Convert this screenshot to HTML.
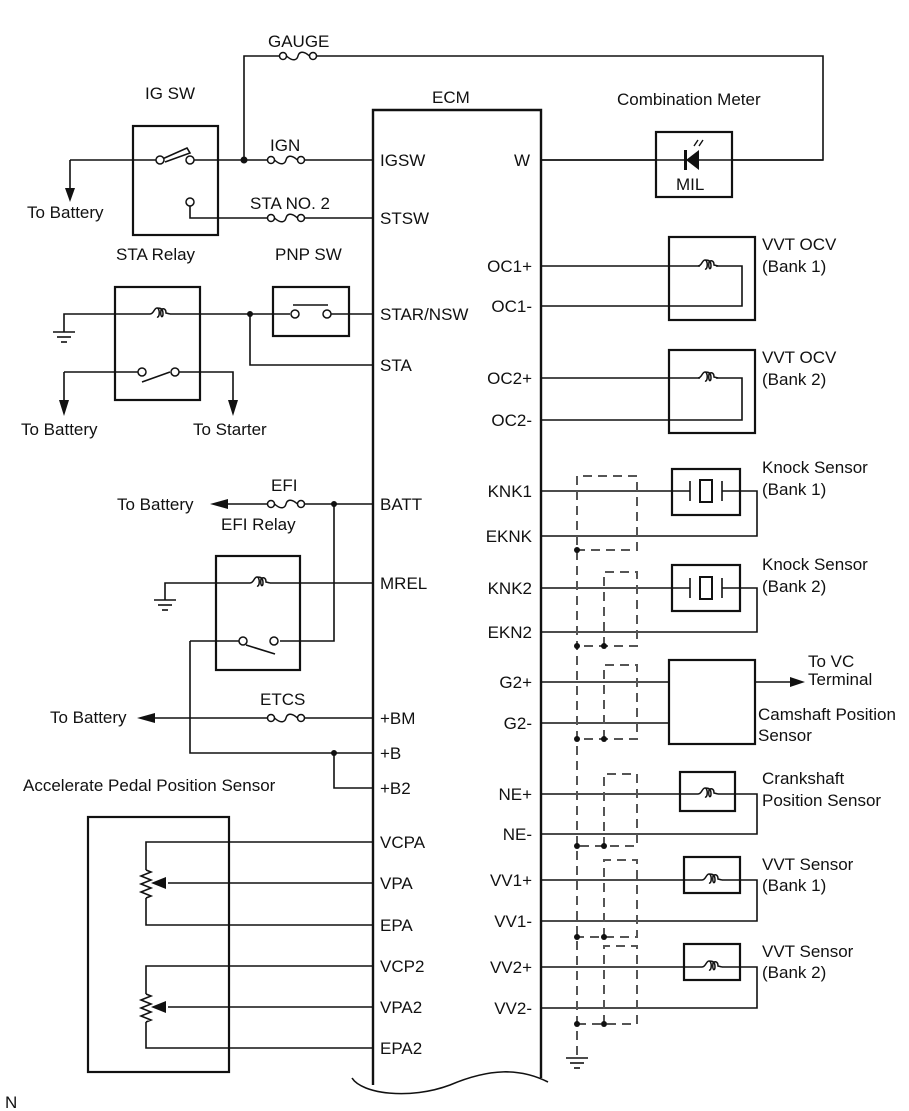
<!DOCTYPE html>
<html><head><meta charset="utf-8"><style>
html,body{margin:0;padding:0;background:#fff}
svg{display:block}
text{font-family:"Liberation Sans",sans-serif;font-size:17px;fill:#111}
</style></head><body>
<svg width="909" height="1111" viewBox="0 0 909 1111" xmlns="http://www.w3.org/2000/svg">
<defs>
<g id="fuse"><circle cx="0" cy="0" r="3.5" fill="#fff" stroke="#111" stroke-width="1.5"/><circle cx="30" cy="0" r="3.5" fill="#fff" stroke="#111" stroke-width="1.5"/><path d="M3.5,0 C10,6 14,4 15,0 C16,-4 20,-6 26.5,0" fill="none" stroke="#111" stroke-width="1.5"/></g>
<g id="coil"><path d="M-10,0 C-6,0 -6,-6 -3,-6 C0,-6 0,4 -3,3 M-3,-6 C0,-6 3,-6 3,0 C3,4 0,4 1,-4 C2,-6 6,-6 6,-1 L10,0" fill="none" stroke="#111" stroke-width="1.5"/></g>
<g id="gnd"><line x1="-11" y1="0" x2="11" y2="0"/><line x1="-7" y1="5" x2="7" y2="5"/><line x1="-3" y1="10" x2="3" y2="10"/></g>
</defs>
<g stroke="#111" stroke-width="1.6" fill="none">
<path d="M373,1085 L373,110 L541,110 L541,1078" stroke-width="2.4"/>
<path d="M352,1078 C362,1094 410,1100 450,1085 C490,1068 520,1068 548,1082" stroke-width="1.6"/>
<rect x="133" y="126" width="85" height="109" stroke-width="2.2"/>
<path d="M70,160 L160,160 M160,160 L187,148 L190,153 L165,162"/>
<path d="M70,160 L70,190"/>
<path d="M244,160 L244,56 L283,56 M313,56 L823,56 L823,160 L541,160"/>
<path d="M190,206 L190,218 L271,218 M301,218 L373,218"/>
<path d="M190,160 L271,160 M301,160 L373,160"/>
<rect x="115" y="287" width="85" height="113" stroke-width="2.2"/>
<path d="M64,332 L64,314 L150,314 M170,314 L290,314 M330,314 L373,314"/>
<path d="M250,314 L250,365 L373,365"/>
<path d="M64,372 L142,372 M175,372 L233,372 L233,405 M64,372 L64,405 M142,382 L170,372"/>
<rect x="273" y="287" width="76" height="49" stroke-width="2.2"/>
<path d="M293,305 L328,305"/>
<path d="M228,504 L270,504 M303,504 L373,504 M334,504 L334,641 L280,641"/>
<rect x="216" y="556" width="84" height="114" stroke-width="2.2"/>
<path d="M165,600 L165,583 L250,583 M270,583 L373,583"/>
<path d="M190,641 L240,641 M246,645 L275,654 M190,641 L190,753 L373,753 M334,753 L334,788 L373,788"/>
<path d="M155,718 L270,718 M303,718 L373,718"/>
<rect x="656" y="132" width="76" height="65" stroke-width="2.2"/>
<path d="M541,160 L656,160 M732,160 L823,160"/>
<rect x="669" y="237" width="86" height="83" stroke-width="2.2"/>
<path d="M541,266 L700,266 M716,266 L742,266 L742,306 L541,306"/>
<rect x="669" y="350" width="86" height="83" stroke-width="2.2"/>
<path d="M541,378 L700,378 M716,378 L742,378 L742,420 L541,420"/>
<rect x="672" y="469" width="68" height="46" stroke-width="2.2"/>
<path d="M541,491 L690,491 M722,491 L757,491 L757,536 L541,536 M690,481 L690,501 M722,481 L722,501"/>
<rect x="700" y="480" width="12" height="22" stroke-width="2"/>
<rect x="672" y="565" width="68" height="46" stroke-width="2.2"/>
<path d="M541,588 L690,588 M722,588 L757,588 L757,632 L541,632 M690,578 L690,598 M722,578 L722,598"/>
<rect x="700" y="577" width="12" height="22" stroke-width="2"/>
<rect x="669" y="660" width="86" height="84" stroke-width="2.2"/>
<path d="M541,682 L669,682 M541,723 L669,723 M755,682 L790,682"/>
<rect x="680" y="772" width="55" height="39" stroke-width="2.2"/>
<path d="M541,794 L698,794 M718,794 L757,794 L757,834 L541,834"/>
<rect x="684" y="857" width="56" height="36" stroke-width="2.2"/>
<path d="M541,880 L702,880 M722,880 L757,880 L757,921 L541,921"/>
<rect x="684" y="944" width="56" height="36" stroke-width="2.2"/>
<path d="M541,967 L702,967 M722,967 L757,967 L757,1008 L541,1008"/>
<rect x="88" y="817" width="141" height="255" stroke-width="2.2"/>
<path d="M373,842 L146,842 L146,870 M146,898 L146,925 L373,925 M373,883 L168,883"/>
<path d="M146,870 l5,2 l-10,4 l10,4 l-10,4 l10,4 l-10,4 l10,4 l-5,2"/>
<path d="M373,966 L146,966 L146,994 M146,1022 L146,1048 L373,1048 M373,1007 L168,1007"/>
<path d="M146,994 l5,2 l-10,4 l10,4 l-10,4 l10,4 l-10,4 l10,4 l-5,2"/>
</g>
<g stroke="#555" stroke-width="2" fill="none" stroke-dasharray="9,6">
<path d="M577,1055 L577,476 L637,476 L637,550 L577,550"/>
<path d="M604,646 L604,572 L637,572 L637,646 L577,646"/>
<path d="M604,739 L604,665 L637,665 L637,739 L577,739"/>
<path d="M604,846 L604,774 L637,774 L637,846 L577,846"/>
<path d="M604,937 L604,860 L637,860 L637,937 L577,937"/>
<path d="M604,1024 L604,946 L637,946 L637,1024 L577,1024"/>
</g>
<g fill="#111">
<circle cx="244" cy="160" r="3.5"/><circle cx="250" cy="314" r="3"/><circle cx="334" cy="504" r="3"/><circle cx="334" cy="753" r="3"/>
<circle cx="577" cy="550" r="3"/><circle cx="577" cy="646" r="3"/><circle cx="604" cy="646" r="3"/>
<circle cx="577" cy="739" r="3"/><circle cx="604" cy="739" r="3"/><circle cx="577" cy="846" r="3"/><circle cx="604" cy="846" r="3"/>
<circle cx="577" cy="937" r="3"/><circle cx="604" cy="937" r="3"/><circle cx="577" cy="1024" r="3"/><circle cx="604" cy="1024" r="3"/>
<polygon points="65,188 75,188 70,202"/><polygon points="59,400 69,400 64,416"/><polygon points="228,400 238,400 233,416"/>
<polygon points="210,504 228,499 228,509"/><polygon points="137,718 155,713 155,723"/>
<polygon points="790,677 805,682 790,687"/>
<polygon points="151,883 166,877 166,889"/><polygon points="151,1007 166,1001 166,1013"/>
<polygon points="699,150 699,170 686,160"/><rect x="684" y="150" width="3" height="20"/>
</g>
<g fill="#fff" stroke="#111" stroke-width="1.5">
<circle cx="160" cy="160" r="4"/><circle cx="190" cy="160" r="4"/><circle cx="190" cy="202" r="4"/>
<circle cx="142" cy="372" r="4"/><circle cx="175" cy="372" r="4"/><circle cx="295" cy="314" r="4"/><circle cx="327" cy="314" r="4"/>
<circle cx="243" cy="641" r="4"/><circle cx="274" cy="641" r="4"/>
</g>
<use href="#fuse" x="283" y="56"/><use href="#fuse" x="271" y="160"/><use href="#fuse" x="271" y="218"/>
<use href="#fuse" x="271" y="504"/><use href="#fuse" x="271" y="718"/>
<use href="#coil" x="160" y="314"/><use href="#coil" x="260" y="583"/>
<use href="#coil" x="708" y="266"/><use href="#coil" x="708" y="378"/><use href="#coil" x="708" y="794"/>
<use href="#coil" x="712" y="880"/><use href="#coil" x="712" y="967"/>
<g stroke="#111" stroke-width="1.6"><use href="#gnd" x="64" y="332"/><use href="#gnd" x="165" y="600"/><use href="#gnd" x="577" y="1058"/></g>
<g stroke="#111" stroke-width="1.4"><path d="M694,146 l4,-6 M699,146 l4,-6"/></g>
<text x="268" y="47">GAUGE</text>
<text x="145" y="99">IG SW</text>
<text x="432" y="103">ECM</text>
<text x="617" y="105">Combination Meter</text>
<text x="270" y="151">IGN</text>
<text x="250" y="209">STA NO. 2</text>
<text x="27" y="218">To Battery</text>
<text x="116" y="260">STA Relay</text>
<text x="275" y="260">PNP SW</text>
<text x="21" y="435">To Battery</text>
<text x="193" y="435">To Starter</text>
<text x="271" y="491">EFI</text>
<text x="117" y="510">To Battery</text>
<text x="221" y="530">EFI Relay</text>
<text x="260" y="705">ETCS</text>
<text x="50" y="723">To Battery</text>
<text x="23" y="791">Accelerate Pedal Position Sensor</text>
<g>
<text x="380" y="166">IGSW</text><text x="380" y="224">STSW</text><text x="380" y="320">STAR/NSW</text><text x="380" y="371">STA</text>
<text x="380" y="510">BATT</text><text x="380" y="589">MREL</text><text x="380" y="724">+BM</text><text x="380" y="759">+B</text><text x="380" y="794">+B2</text>
<text x="380" y="848">VCPA</text><text x="380" y="889">VPA</text><text x="380" y="931">EPA</text><text x="380" y="972">VCP2</text><text x="380" y="1013">VPA2</text><text x="380" y="1054">EPA2</text>
</g>
<g text-anchor="end">
<text x="530" y="166">W</text><text x="532" y="272">OC1+</text><text x="532" y="312">OC1-</text><text x="532" y="384">OC2+</text><text x="532" y="426">OC2-</text>
<text x="532" y="497">KNK1</text><text x="532" y="542">EKNK</text><text x="532" y="594">KNK2</text><text x="532" y="638">EKN2</text>
<text x="532" y="688">G2+</text><text x="532" y="729">G2-</text><text x="532" y="800">NE+</text><text x="532" y="840">NE-</text>
<text x="532" y="886">VV1+</text><text x="532" y="927">VV1-</text><text x="532" y="973">VV2+</text><text x="532" y="1014">VV2-</text>
</g>
<text x="676" y="190">MIL</text>
<text x="762" y="250">VVT OCV</text><text x="762" y="272">(Bank 1)</text>
<text x="762" y="363">VVT OCV</text><text x="762" y="385">(Bank 2)</text>
<text x="762" y="473">Knock Sensor</text><text x="762" y="495">(Bank 1)</text>
<text x="762" y="570">Knock Sensor</text><text x="762" y="592">(Bank 2)</text>
<text x="808" y="667" font-size="12">To VC</text><text x="808" y="685" font-size="12">Terminal</text>
<text x="758" y="720">Camshaft Position</text><text x="758" y="741">Sensor</text>
<text x="762" y="784">Crankshaft</text><text x="762" y="806">Position Sensor</text>
<text x="762" y="870">VVT Sensor</text><text x="762" y="891">(Bank 1)</text>
<text x="762" y="957">VVT Sensor</text><text x="762" y="978">(Bank 2)</text>
<text x="5" y="1108" font-size="12">N</text>
</svg>
</body></html>
